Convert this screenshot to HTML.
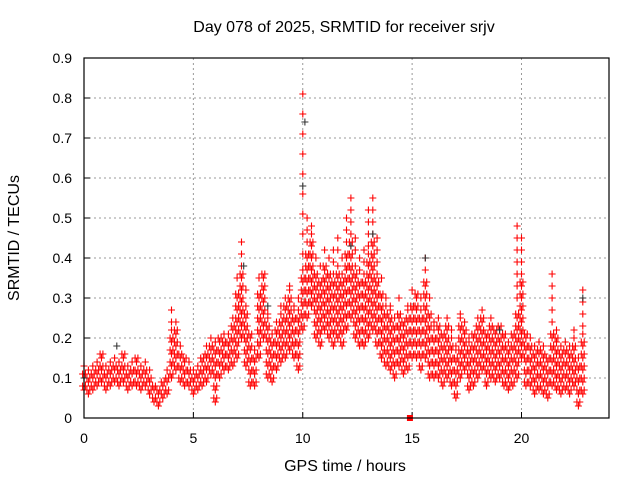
<!DOCTYPE html>
<html><head><meta charset="utf-8"><style>
body{margin:0;background:#fff}
svg{display:block;font-family:"Liberation Sans",sans-serif}
</style></head><body>
<svg id="chart" width="640" height="480">
<text x="344" y="32" font-size="16" text-anchor="middle">Day 078 of 2025, SRMTID for receiver srjv</text>
<text x="345" y="471" font-size="16" text-anchor="middle">GPS time / hours</text>
<text transform="translate(19,238) rotate(-90)" font-size="16" text-anchor="middle">SRMTID / TECUs</text>
<g id="grid"></g><g id="marks"></g>
<rect x="84" y="58" width="525" height="360" fill="none" stroke="#000" stroke-width="1.2"/>
</svg>
<script>
const xTicks=[0,5,10,15,20];
const yTicks=[0,0.1,0.2,0.3,0.4,0.5,0.6,0.7,0.8,0.9];
const tStep=0.2;
const midVals=[.10,.09,.10,.11,.12,.10,.12,.12,.11,.13,
.10,.11,.12,.10,.11,.09,.06,.05,.07,.09,
.15,.18,.13,.12,.11,.09,.10,.12,.13,.15,
.14,.16,.17,.16,.18,.25,.32,.22,.15,.12,
.25,.30,.18,.15,.18,.20,.22,.25,.20,.20,
.30,.35,.40,.30,.28,.32,.30,.30,.32,.30,
.35,.38,.32,.28,.30,.35,.38,.30,.25,.22,
.20,.18,.20,.18,.20,.22,.25,.20,.28,.20,
.16,.18,.15,.18,.14,.10,.18,.20,.12,.15,
.18,.20,.15,.18,.16,.17,.15,.14,.15,.20,
.30,.15,.14,.12,.14,.12,.11,.15,.14,.12,
.13,.12,.14,.10,.15];
const hiVals=[.13,.12,.14,.15,.17,.14,.15,.16,.14,.17,
.14,.15,.16,.14,.15,.13,.09,.08,.10,.12,
.27,.24,.18,.16,.15,.12,.14,.16,.18,.20,
.20,.21,.22,.21,.25,.35,.44,.32,.22,.18,
.35,.37,.26,.22,.25,.28,.30,.33,.28,.30,
.81,.50,.48,.40,.38,.42,.40,.42,.45,.40,
.50,.55,.45,.40,.42,.52,.55,.45,.35,.30,
.28,.25,.30,.25,.28,.32,.32,.30,.40,.30,
.24,.25,.22,.25,.22,.18,.26,.25,.20,.22,
.25,.27,.22,.25,.23,.24,.22,.20,.22,.48,
.45,.22,.20,.18,.20,.18,.16,.36,.22,.18,
.20,.18,.22,.16,.32];
const loVals=[.07,.06,.07,.08,.09,.07,.08,.09,.08,.09,
.07,.08,.08,.07,.08,.06,.04,.03,.05,.06,
.10,.12,.09,.08,.08,.06,.07,.08,.09,.11,
.04,.10,.12,.12,.13,.15,.20,.13,.08,.08,
.15,.20,.10,.09,.12,.14,.15,.17,.15,.12,
.22,.25,.28,.20,.18,.22,.20,.18,.20,.18,
.22,.25,.20,.18,.18,.20,.22,.18,.15,.13,
.12,.10,.13,.11,.12,.15,.15,.12,.15,.10,
.10,.10,.08,.10,.08,.05,.10,.12,.07,.08,
.10,.12,.08,.10,.09,.10,.08,.07,.08,.10,
.15,.08,.08,.06,.07,.06,.05,.08,.07,.06,
.07,.06,.08,.03,.06];
const blackT=[0.0,1.5,7.3,8.4,10.0,10.1,12.2,13.2,15.6,19.0,22.8];
const blackV=[0.10,0.18,0.38,0.28,0.58,0.74,0.43,0.46,0.40,0.22,0.30];
const markerT=[14.9];const markerV=[0];
const X=t=>84+t*(525/24), Y=v=>418-v*400;
const NS='http://www.w3.org/2000/svg';
const grid=document.getElementById('grid'),marks=document.getElementById('marks');
function mk(tag,attrs,parent){const e=document.createElementNS(NS,tag);for(const k in attrs)e.setAttribute(k,attrs[k]);parent.appendChild(e);return e;}
xTicks.forEach(t=>{
 if(t>0){const l=mk('line',{x1:X(t),x2:X(t),y1:58,y2:418,stroke:'#999','stroke-dasharray':'2,3'},grid);
 
 }
 mk('line',{x1:X(t),x2:X(t),y1:418,y2:412,stroke:'#000'},grid);
 const tx=mk('text',{x:X(t),y:443,'font-size':14,'text-anchor':'middle'},grid);tx.textContent=t;
 
 
});
yTicks.forEach(v=>{
 if(v>0&&v<0.9){const l=mk('line',{x1:84,x2:609,y1:Y(v),y2:Y(v),stroke:'#999','stroke-dasharray':'2,3'},grid);
 
 }
 mk('line',{x1:84,x2:90,y1:Y(v),y2:Y(v),stroke:'#000'},grid);
 const tx=mk('text',{x:72,y:Y(v)+5,'font-size':14,'text-anchor':'end'},grid);tx.textContent=+v.toFixed(1);
 
 
});
let d='';
function cross(t,v){const x=X(t),y=Y(v);d+=`M${(x-3.5).toFixed(1)} ${y.toFixed(1)}h7M${x.toFixed(1)} ${(y-3.5).toFixed(1)}v7`;}
const offs=[-0.066,0,0.066];
midVals.forEach((m,i)=>{
 const t=i*tStep,lo=loVals[i],hi=hiVals[i];
 offs.forEach((o,k)=>{
  const top=Math.min(hi,m+0.07)-(k===1?0:0.01), bot=lo+(k===1?0:0.01);
  for(let v=bot;v<=top+1e-9;v+=0.03)cross(t+o,v);
 });
 if(hi>m+0.07){for(let v=hi;v>m+0.07;v-=(hi-m>0.3?0.05:0.03))cross(t,v);}
});
const red=mk('path',{d:d,stroke:'#f00','stroke-width':1.1,fill:'none'},marks);


d='';
blackT.forEach((t,i)=>cross(t,blackV[i]));
const blk=mk('path',{d:d,stroke:'#333','stroke-width':1.1,fill:'none'},marks);


markerT.forEach((t,i)=>{const r=mk('rect',{x:X(t)-3,y:Y(markerV[i])-3,width:6,height:6,fill:'#f00'},marks);
 
 });
</script>
</body></html>
